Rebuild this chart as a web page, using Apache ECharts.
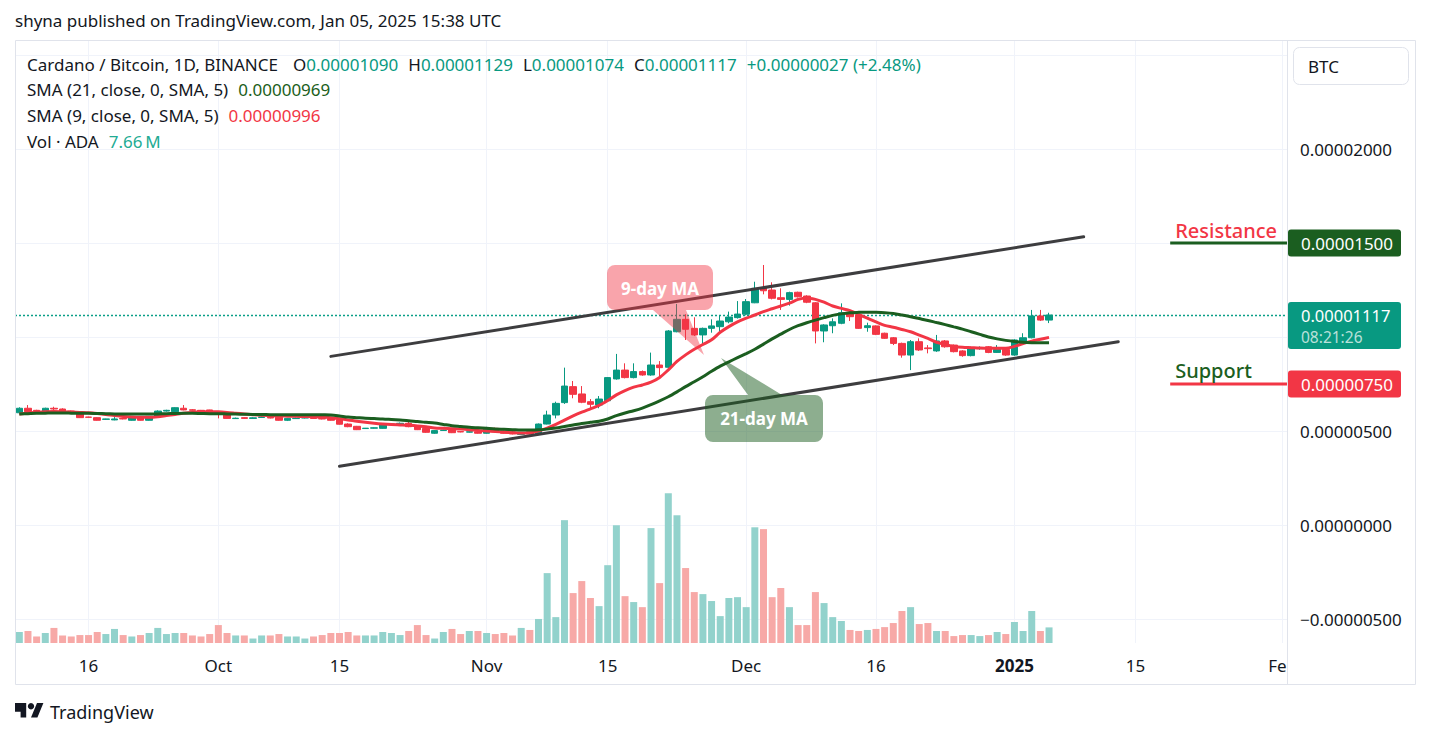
<!DOCTYPE html>
<html><head><meta charset="utf-8">
<script src="https://cdn.jsdelivr.net/npm/echarts@6/dist/echarts.min.js"></script>
<style>html,body{margin:0;padding:0;background:#fff;}#c{width:1431px;height:738px;}</style>
</head><body><div id="c"></div>
<script>
// ---- DATA (prices in satoshi = 1e-8 BTC, volume in millions ADA) ----
const startDay = [2024, 8, 8];          // 2024-09-08 (month 0-based)
const dayCount = 147;                    // through 2025-02-01
const tickDates = ['2024-09-16','2024-10-01','2024-10-15','2024-11-01','2024-11-15','2024-12-01','2024-12-16','2025-01-01','2025-01-15','2025-02-01'];
const tickLabels = ['16','Oct','15','Nov','15','Dec','16','2025','15','Feb'];
const priceTickLabels = [2000, 500, 0, -500];

const openP = [597,621,610,599,621,617,606,594,574,571,
 562,559,567,557,573,557,580,606,603,621,
 613,610,612,592,585,566,571,567,572,573,
 573,557,566,569,569,566,564,559,537,525,
 513,515,514,534,536,541,527,514,488,503,
 505,497,494,496,488,514,500,495,482,496,
 484,537,585,651,736,697,656,638,661,777,
 824,784,816,798,851,839,1028,1094,1046,1011,
 1046,1055,1081,1103,1121,1182,1262,1250,1209,1200,
 1238,1218,1182,1032,1060,1073,1129,1117,1050,1059,
 1020,996,966,904,975,942,926,979,957,926,
 901,938,948,918,934,904,975,996,1112,1090];
const closeP = [621,603,606,621,617,599,599,571,573,557,
 564,564,564,571,557,578,606,610,624,612,
 610,606,592,589,567,568,567,570,575,569,
 557,567,568,571,567,564,557,536,523,507,
 515,517,532,537,541,523,507,493,502,505,
 491,495,496,488,518,496,488,485,487,485,
 537,585,647,739,695,653,642,670,784,824,
 784,816,798,851,837,1032,1094,1041,1011,1046,
 1059,1085,1106,1122,1188,1259,1246,1206,1200,1236,
 1214,1185,1032,1064,1081,1129,1108,1046,1060,1014,
 993,966,904,975,931,938,979,948,922,901,
 940,941,918,934,904,984,996,1112,1090,1117];
const lowP = [594,599,603,597,606,597,597,569,571,555,
 559,557,562,555,555,555,578,603,601,610,
 608,603,590,567,565,564,565,566,570,567,
 555,553,564,567,565,562,555,534,520,505,
 511,513,512,532,534,520,505,490,485,500,
 489,493,492,486,486,494,486,482,479,482,
 481,535,567,644,674,648,621,621,658,773,
 780,780,794,794,789,835,1025,984,1005,963,
 1023,1028,1073,1098,1115,1180,1227,1200,1144,1167,
 1210,1180,966,972,1020,1068,1085,1043,1028,1010,
 990,957,890,824,926,913,921,943,918,895,
 897,932,914,915,900,900,972,993,1085,1074];
const highP = [626,638,613,624,629,621,608,596,576,573,
 565,574,569,573,574,580,610,613,626,638,
 617,612,613,599,589,571,573,573,578,578,
 574,569,571,573,571,569,567,562,541,527,
 516,519,536,540,545,553,530,516,505,507,
 508,499,498,499,522,518,503,498,490,499,
 540,608,656,837,766,739,670,686,787,910,
 860,860,822,917,872,1037,1176,1121,1105,1050,
 1094,1117,1135,1191,1202,1294,1383,1291,1259,1241,
 1241,1222,1186,1068,1099,1179,1133,1120,1076,1062,
 1023,1000,970,984,993,957,1011,984,960,930,
 949,950,952,957,938,988,1020,1144,1144,1129];
const sma21 = [590,592,594,595,596,596,595,594,594,593,
 592,591,590,590,590,590,591,592,593,594,
 594,593,592,592,591,590,589,588,588,587,
 587,587,587,587,587,586,585,580,574,571,
 568,566,564,561,558,555,550,546,542,535,
 528,524,520,517,514,511,509,507,505,505,
 506,510,516,524,532,540,546,552,564,582,
 596,608,622,640,660,682,708,736,762,789,
 818,845,868,890,912,935,962,990,1015,1040,
 1060,1076,1090,1103,1115,1123,1129,1131,1132,1131,
 1129,1125,1117,1108,1098,1088,1077,1066,1054,1042,
 1028,1014,1000,990,982,976,972,970,969,969];
const sma9 = [590,595,600,603,604,603,601,599,597,593,
 588,582,577,574,573,573,576,582,588,594,
 599,602,603,602,599,595,591,587,584,582,
 580,579,578,577,576,574,570,565,559,552,
 546,541,537,534,532,530,527,522,516,514,
 512,510,507,503,500,497,494,491,489,490,
 500,515,535,558,580,600,618,636,662,692,
 715,733,745,760,785,825,870,905,935,960,
 985,1025,1055,1080,1100,1117,1135,1150,1165,1180,
 1200,1208,1200,1185,1165,1152,1140,1120,1100,1080,
 1062,1052,1040,1028,1010,993,972,960,950,945,
 943,941,940,940,940,950,965,978,988,998];
const volume = [5.4,5.9,3.2,4.9,7.4,3.7,3.2,3.9,3.9,5.4,
 4.4,6.9,3.9,3.2,3.9,4.9,7.4,4.4,4.9,4.9,
 3.7,3.2,4.4,8.8,4.9,3.7,3.7,2.2,3.7,3.7,
 4.4,3.2,3.2,2.2,3.2,3.9,4.9,4.9,5.4,3.7,
 3.7,3.7,5.4,4.9,3.9,5.9,8.8,3.9,2.2,5.4,
 6.9,4.4,5.9,5.9,4.9,4.4,4.9,3.7,7.4,6.4,
 11.8,34.3,12.7,60.3,24.5,30.4,22.1,18.1,38.2,57.8,
 23.0,20.1,17.6,56.4,29.4,73.5,62.7,36.8,25.0,24.0,
 20.6,13.2,22.1,22.5,17.6,56.8,55.9,22.5,27.0,17.6,
 8.8,8.8,25.0,19.6,12.7,10.8,6.4,5.9,6.4,6.9,
 7.8,9.8,15.7,17.6,9.3,9.8,5.9,5.9,3.4,3.9,
 3.9,3.4,3.9,5.4,4.4,10.3,5.9,15.7,5.9,7.66];

const lastClose = 1117;
const resistanceLevel = 1500;
const supportLevel = 750;
const levelStartDate = '2025-01-19';
const trendUpper = [['2024-10-14', 897], ['2025-01-09', 1533]];
const trendLower = [['2024-10-15', 313], ['2025-01-13', 975]];

// ---- BUILD ----
const categories = [];
for (let i = 0; i < dayCount; i++) {
  const d = new Date(Date.UTC(startDay[0], startDay[1], startDay[2] + i));
  categories.push(d.toISOString().slice(0, 10));
}
const tickMap = {};
tickDates.forEach((d, i) => tickMap[d] = tickLabels[i]);

const UP = '#089981', DOWN = '#f23645', SMA21C = '#1b5e20', TXT = '#131722';
const FONT = "'Noto Sans', sans-serif";
const candles = openP.map((o, i) => [o, closeP[i], lowP[i], highP[i]]);
const volData = volume.map((v, i) => ({ value: v, itemStyle: { color: closeP[i] >= openP[i] ? '#92d2cc' : '#f7a9a7' } }));

const chart = echarts.init(document.getElementById('c'), null, { renderer: 'svg', width: 1431, height: 738 });

const option = {
  animation: false,
  backgroundColor: '#ffffff',
  textStyle: { fontFamily: FONT },
  grid: [
    { left: 15, right: 144, top: 55, bottom: 25, outerBoundsMode: 'none', containLabel: false },
    { left: 15, right: 144, top: 40, bottom: 95, outerBoundsMode: 'none', containLabel: false }
  ],
  xAxis: [
    { type: 'category', gridIndex: 0, data: categories, show: false, boundaryGap: true },
    { type: 'category', gridIndex: 1, data: categories, boundaryGap: true,
      axisLine: { show: false }, axisTick: { show: false },
      axisLabel: { interval: (i, v) => tickMap[v] !== undefined, margin: 14, fontSize: 17, color: TXT, fontFamily: FONT,
        formatter: v => v === '2025-01-01' ? '{b|' + tickMap[v] + '}' : (tickMap[v] || ''),
        rich: { b: { fontWeight: 'bold', fontSize: 17, color: TXT, fontFamily: FONT } } },
      splitLine: { show: true, alignWithLabel: true, interval: (i, v) => tickMap[v] !== undefined, lineStyle: { color: '#f0f3fa', width: 1 } } }
  ],
  yAxis: [
    { type: 'value', gridIndex: 0, position: 'right', min: -1000, max: 2500, interval: 500,
      axisLine: { show: false }, axisTick: { show: false },
      axisLabel: { margin: 13, fontSize: 17, color: TXT, fontFamily: FONT,
        formatter: v => priceTickLabels.indexOf(Math.round(v)) >= 0 ? ((v < 0 ? '\u2212' : '') + (Math.abs(v) / 1e8).toFixed(8)) : '' },
      splitLine: { show: true, showMinLine: false, showMaxLine: true, lineStyle: { color: '#f0f3fa', width: 1 } } },
    { type: 'value', gridIndex: 1, min: 0, max: 296, show: false, splitLine: { show: false } }
  ],
  series: [
    { type: 'bar', name: 'Vol', xAxisIndex: 1, yAxisIndex: 1, data: volData, barWidth: 7, z: 1 },
    { type: 'candlestick', name: 'ADA/BTC', xAxisIndex: 0, yAxisIndex: 0, data: candles, barWidth: 7, z: 2,
      itemStyle: { color: UP, color0: DOWN, borderColor: UP, borderColor0: DOWN, borderWidth: 1 },
      markLine: {
        silent: true, symbol: ['none', 'none'], label: { show: false }, animation: false,
        lineStyle: { type: 'solid', color: '#3d3d3f', width: 3, cap: 'round' },
        data: [
          [{ coord: trendUpper[0] }, { coord: trendUpper[1] }],
          [{ coord: trendLower[0] }, { coord: trendLower[1] }]
        ]
      } },
    { type: 'line', name: 'SMA9', xAxisIndex: 0, yAxisIndex: 0, data: sma9, symbol: 'none', smooth: 0.3, z: 3,
      lineStyle: { color: DOWN, width: 3 } },
    { type: 'line', name: 'SMA21', xAxisIndex: 0, yAxisIndex: 0, data: sma21, symbol: 'none', smooth: 0.3, z: 3,
      lineStyle: { color: SMA21C, width: 3 } }
  ]
};
chart.setOption(option);

// ---- overlays (positions from the chart's own scales where tied to data) ----
const py = v => chart.convertToPixel({ yAxisIndex: 0 }, v);
const px = d => chart.convertToPixel({ xAxisIndex: 0 }, d);
const yRes = py(resistanceLevel), ySup = py(supportLevel), yLast = Math.round(py(lastClose)) + 0.5;
const xLvl = px(levelStartDate);
const plotLeft = 15, plotRight = 1287;

function txt(x, y, text, size, color, weight, align, extraStyle) {
  return { type: 'text', z: 130, silent: true,
    style: Object.assign({ x: x, y: y, text: text, fill: color, fontSize: size, fontFamily: FONT, fontWeight: weight || 'normal', verticalAlign: 'middle', align: align || 'left' }, extraStyle || {}) };
}
function richTxt(x, y, text, rich) {
  return { type: 'text', z: 130, silent: true,
    style: { x: x, y: y, text: text, fill: TXT, fontSize: 17, fontFamily: FONT, verticalAlign: 'middle', align: 'left', rich: rich } };
}
const base = { fontSize: 17, fontFamily: FONT };
const R = {
  t: Object.assign({ fill: TXT }, base),
  v: Object.assign({ fill: UP }, base),
  g: Object.assign({ fill: SMA21C }, base),
  r: Object.assign({ fill: DOWN }, base),
  q: Object.assign({ fill: '#22ab94' }, base),
  s1: { width: 15 },
  s: { width: 10 }
};
function arcPts(cx, cy, r, a0, a1) {
  const pts = [];
  for (let k = 0; k <= 4; k++) { const a = a0 + (a1 - a0) * k / 4; pts.push([cx + r * Math.cos(a), cy + r * Math.sin(a)]); }
  return pts;
}
function callout(x0, y0, x1, y1, r, side, b0, tip, b1) {
  const P = Math.PI;
  let pts = [];
  pts = pts.concat(arcPts(x0 + r, y0 + r, r, P, 1.5 * P));
  if (side === 'top') pts.push([b0, y0], tip, [b1, y0]);
  pts = pts.concat(arcPts(x1 - r, y0 + r, r, 1.5 * P, 2 * P));
  pts = pts.concat(arcPts(x1 - r, y1 - r, r, 0, 0.5 * P));
  if (side === 'bottom') pts.push([b1, y1], tip, [b0, y1]);
  pts = pts.concat(arcPts(x0 + r, y1 - r, r, 0.5 * P, P));
  return pts;
}
function badge(y, color, label) {
  return [
    { type: 'rect', z: 130, silent: true, shape: { x: 1288, y: y - 13.5, width: 113, height: 27, r: 3 }, style: { fill: color } },
    txt(1301, y, label, 17, '#ffffff')
  ];
}

const g = [];
// current price dotted line
g.push({ type: 'line', z: 1, silent: true, shape: { x1: plotLeft, y1: yLast, x2: plotRight, y2: yLast }, style: { stroke: '#0a9f87', lineWidth: 1.3, lineDash: [2, 2] } });
// frame & separator
g.push({ type: 'rect', z: 110, silent: true, shape: { x: 1288, y: 645, width: 127, height: 39 }, style: { fill: '#ffffff' } });
g.push({ type: 'rect', z: 120, silent: true, shape: { x: 15.5, y: 40.5, width: 1400, height: 644 }, style: { fill: 'none', stroke: '#e0e3eb', lineWidth: 1 } });
g.push({ type: 'line', z: 120, silent: true, shape: { x1: 1287.5, y1: 40, x2: 1287.5, y2: 685 }, style: { stroke: '#e0e3eb', lineWidth: 1 } });
// header
g.push(txt(15, 20, 'shyna published on TradingView.com, Jan 05, 2025 15:38 UTC', 17, TXT));
g.push(richTxt(27, 64, '{t|Cardano / Bitcoin, 1D, BINANCE}{s1|}{t|O}{v|0.00001090}{s|}{t|H}{v|0.00001129}{s|}{t|L}{v|0.00001074}{s|}{t|C}{v|0.00001117}{s|}{v|+0.00000027 (+2.48%)}', R));
g.push(richTxt(27, 89, '{t|SMA (21, close, 0, SMA, 5)}{s|}{g|0.00000969}', R));
g.push(richTxt(27, 115, '{t|SMA (9, close, 0, SMA, 5)}{s|}{r|0.00000996}', R));
g.push(richTxt(27, 141, '{t|Vol \u00b7 ADA}{s|}{q|7.66\u2009M}', R));
// BTC button
g.push({ type: 'rect', z: 130, silent: true, shape: { x: 1293.5, y: 47.5, width: 115, height: 37, r: 6 }, style: { fill: '#ffffff', stroke: '#e0e3eb', lineWidth: 1 } });
g.push(txt(1308, 66, 'BTC', 17, TXT));
// level lines
g.push({ type: 'line', z: 125, silent: true, shape: { x1: xLvl, y1: yRes, x2: plotRight, y2: yRes }, style: { stroke: SMA21C, lineWidth: 3 } });
g.push({ type: 'line', z: 125, silent: true, shape: { x1: xLvl, y1: ySup, x2: plotRight, y2: ySup }, style: { stroke: DOWN, lineWidth: 3 } });
g.push(txt(xLvl + 5, yRes - 13, 'Resistance', 20, DOWN, 500));
g.push(txt(xLvl + 5, ySup - 14, 'Support', 20, SMA21C, 500));
// badges
badge(yRes, SMA21C, '0.00001500').forEach(e => g.push(e));
badge(ySup, DOWN, '0.00000750').forEach(e => g.push(e));
g.push({ type: 'rect', z: 130, silent: true, shape: { x: 1288, y: yLast - 13.5, width: 113, height: 47, r: 3 }, style: { fill: UP } });
g.push(txt(1301, yLast - 0.5, (lastClose / 1e8).toFixed(8), 16.5, '#ffffff'));
g.push(txt(1301, yLast + 21, '08:21:26', 15.5, 'rgba(255,255,255,0.72)'));
// callouts
g.push({ type: 'polygon', z: 140, silent: true,
  shape: { points: callout(607, 265, 713, 310, 8, 'bottom', 653, [704, 355], 686) },
  style: { fill: 'rgba(242,54,69,0.45)' } });
g.push(Object.assign(txt(660, 288, '9-day MA', 17, '#ffffff', 'bold', 'center'), { z: 141 }));
g.push({ type: 'polygon', z: 140, silent: true,
  shape: { points: callout(705, 395, 823, 442, 8, 'top', 748, [721, 358], 782) },
  style: { fill: 'rgba(27,94,32,0.5)' } });
g.push(Object.assign(txt(764, 418, '21-day MA', 17, '#ffffff', 'bold', 'center'), { z: 141 }));
// footer logo + text
g.push({ type: 'polygon', z: 130, silent: true,
  shape: { points: [[15, 703], [26.2, 703], [26.2, 717.4], [20.6, 717.4], [20.6, 711.8], [15, 711.8]] }, style: { fill: TXT } });
g.push({ type: 'polygon', z: 130, silent: true,
  shape: { points: [[31, 717.4], [37, 703], [43.4, 703], [37.4, 717.4]] }, style: { fill: TXT } });
g.push({ type: 'circle', z: 130, silent: true, shape: { cx: 31, cy: 706.2, r: 3.2 }, style: { fill: TXT } });
g.push(txt(50, 712, 'TradingView', 18, TXT));

chart.setOption({ graphic: { elements: g } });
</script></body></html>
